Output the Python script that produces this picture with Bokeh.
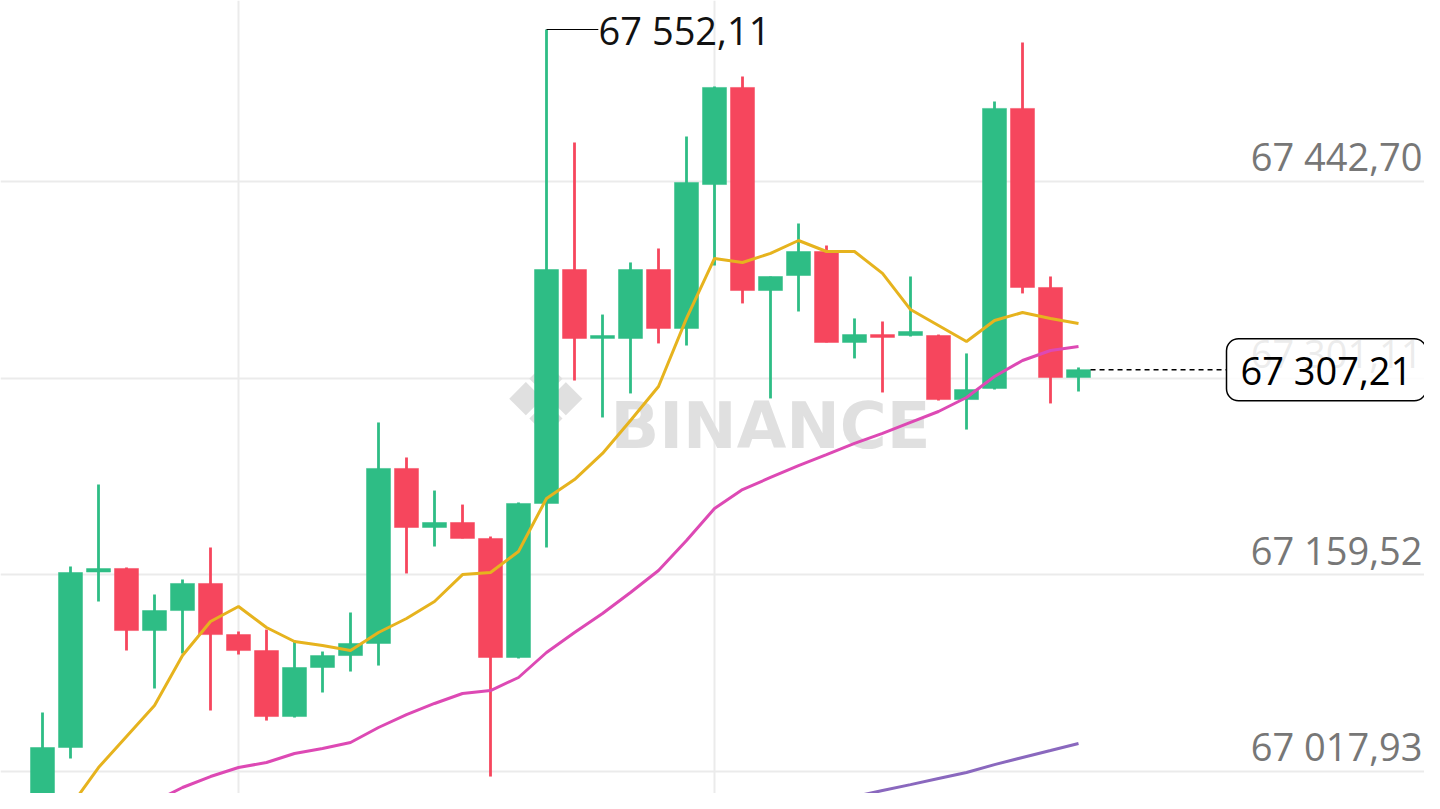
from bokeh.plotting import figure
from bokeh.models import Label, FixedTicker, ColumnDataSource, Range1d
from bokeh.embed import file_html
from bokeh.resources import INLINE

nan = float("nan")

# ---- data ----
idx = list(range(38))
opens = [66968.2, 67035.2, 67161.5, 67164.1, 67119.4, 67133.8, 67153.3, 67116.5, 67105.0, 67057.5,
         67092.8, 67101.4, 67110.1, 67236.1, 67193.6, 67197.2, 67185.7, 67100.0, 67210.9, 67379.3,
         67329.7, 67329.7, 67379.3, 67336.9, 67440.5, 67510.4, 67364.2, 67375.0, 67392.3, 67326.8,
         67332.5, 67331.8, 67331.8, 67285.7, 67293.7, 67495.3, 67366.4, 67301.6]
highs = [67060.4, 67165.5, 67224.5, 67164.8, 67145.3, 67156.1, 67179.2, 67118.7, 67120.1, 67112.2,
         67104.3, 67132.4, 67269.2, 67244.0, 67220.2, 67210.1, 67187.1, 67211.6, 67552.11, 67470.8,
         67346.9, 67384.4, 67394.5, 67475.1, 67511.0, 67518.3, 67374.3, 67412.5, 67396.6, 67344.1,
         67341.9, 67374.3, 67332.5, 67318.9, 67500.3, 67542.8, 67374.3, 67308.8]
lows = [66957.4, 67027.3, 67140.3, 67105.0, 67077.7, 67102.9, 67061.8, 67102.1, 67054.6, 67056.8,
        67074.8, 67089.9, 67094.2, 67160.5, 67179.9, 67185.7, 67014.3, 67099.3, 67179.2, 67299.4,
        67272.8, 67290.1, 67326.1, 67324.6, 67382.2, 67354.9, 67286.5, 67349.1, 67326.8, 67315.3,
        67290.8, 67331.1, 67285.0, 67264.1, 67292.9, 67362.1, 67282.9, 67291.5]
closes = [67035.2, 67161.2, 67164.0, 67119.4, 67133.8, 67153.3, 67116.5, 67105.0, 67057.5, 67092.8,
          67101.4, 67110.1, 67236.1, 67193.6, 67197.2, 67185.7, 67100.0, 67210.9, 67379.3, 67329.7,
          67331.8, 67379.3, 67336.9, 67442.0, 67510.4, 67364.2, 67374.3, 67392.3, 67326.8, 67332.5,
          67330.4, 67334.7, 67285.7, 67292.9, 67495.3, 67366.4, 67301.6, 67307.21]

ma7 = [66964.6, 66992.7, 67020.8, 67043.1, 67065.4, 67101.4, 67125.9, 67136.7, 67121.6, 67111.5,
       67108.6, 67105.0, 67118.0, 67128.1, 67140.3, 67159.7, 67161.2, 67176.3, 67214.5, 67228.1,
       67246.9, 67270.6, 67295.1, 67344.1, 67387.3, 67384.4, 67390.9, 67400.2, 67392.3, 67392.3,
       67376.5, 67350.5, 67339.0, 67327.5, 67342.6, 67348.4, 67344.1, 67340.5]
ma25 = [nan, nan, nan, 66986.2, 66996.3, 67006.4, 67014.3, 67020.8, 67024.4, 67030.9,
        67034.5, 67038.8, 67049.6, 67058.9, 67066.9, 67074.1, 67076.2, 67085.6, 67103.6, 67118.0,
        67131.7, 67146.8, 67162.6, 67184.2, 67207.3, 67220.9, 67229.6, 67238.2, 67246.1, 67254.1,
        67261.3, 67269.2, 67277.1, 67287.2, 67302.3, 67313.8, 67321.0, 67323.9]
ma99 = [nan] * 25 + [66984.1, 66988.4, 66992.7, 66996.3, 66999.9, 67004.2, 67008.5, 67012.9,
                     67017.2, 67022.9, 67028.0, 67033.0, 67038.1]

grid_prices = [67017.93, 67159.52, 67301.11, 67442.70]
grid_labels = ["67 017,93", "67 159,52", "67 301,11", "67 442,70"]
grid_times = [7, 24]
last_price = 67307.21
last_label = "67 307,21"
high_price = 67552.11
high_label = "67 552,11"
high_index = 18

# ---- styles ----
GREEN = "#2EBD85"
RED = "#F6465D"
FONT = "Open Sans"

W, H = 1424, 793
p = figure(width=W, height=H, output_backend="svg", toolbar_location=None,
           x_range=Range1d(-1.5, 49.357), y_range=Range1d(67002.09, 67572.99),
           min_border=0, outline_line_color=None, background_fill_color="white",
           border_fill_color="white")
p.xaxis.visible = False
p.yaxis.visible = False
p.xgrid.ticker = FixedTicker(ticks=grid_times)
p.ygrid.ticker = FixedTicker(ticks=grid_prices)
p.grid.grid_line_color = "#EBEBEB"
p.grid.grid_line_width = 2

# watermark
p.add_layout(Label(x=545, y=393, x_units="screen", y_units="screen", text="\u2756",
                   text_font="DejaVu Sans", text_font_size="100px", text_color="#E0E0E0",
                   text_align="center", text_baseline="middle", level="underlay"))
p.add_layout(Label(x=610, y=368, x_units="screen", y_units="screen", text="BINANCE",
                   text_font="DejaVu Sans", text_font_style="bold", text_font_size="64px",
                   text_color="#E0E0E0", text_align="left", text_baseline="alphabetic",
                   level="underlay"))

colors = [GREEN if c >= o else RED for o, c in zip(opens, closes)]
src = ColumnDataSource(dict(
    x=idx, o=opens, h=highs, l=lows, c=closes,
    top=[max(o, c) for o, c in zip(opens, closes)],
    bottom=[min(o, c) for o, c in zip(opens, closes)],
    color=colors))

p.segment(x0="x", y0="h", x1="x", y1="l", source=src, line_color="color", line_width=2.8)
p.vbar(x="x", width=0.857, top="top", bottom="bottom", source=src,
       fill_color="color", line_color="color", line_width=0.5)

p.line(idx, ma99, line_color="#8A68BE", line_width=3)
p.line(idx, ma25, line_color="#DD49B4", line_width=3)
p.line(idx, ma7, line_color="#E6B31E", line_width=3)

# price scale labels
for price, lab in zip(grid_prices, grid_labels):
    p.add_layout(Label(x=1422, y=price, x_units="screen", y_units="data", y_offset=25,
                       text=lab, text_font=FONT, text_font_size="38px", text_color="#777777",
                       text_align="right", text_baseline="alphabetic"))

# highest price marker
p.segment(x0=[high_index], y0=[high_price], x1=[high_index + 1.85], y1=[high_price],
          line_color="black", line_width=1.2)
p.add_layout(Label(x=high_index + 1.86, y=high_price, text=high_label, text_font=FONT,
                   text_font_size="38px", text_color="#111111", text_align="left",
                   text_baseline="middle"))

# last price line and box
p.segment(x0=[idx[-1] + 0.43], y0=[last_price], x1=[42.29], y1=[last_price],
          line_color="black", line_width=1.4, line_dash="5 4")
p.add_layout(Label(x=1226, y=last_price, x_units="screen", y_units="data", text=last_label,
                   text_font=FONT, text_font_size="38px", text_color="#000000",
                   text_align="left", text_baseline="middle",
                   background_fill_color="white", background_fill_alpha=0.86,
                   border_line_color="black", border_line_width=1.5,
                   padding=(14, 5), border_radius=12))

open("out.html", "w").write(file_html(p, INLINE))
